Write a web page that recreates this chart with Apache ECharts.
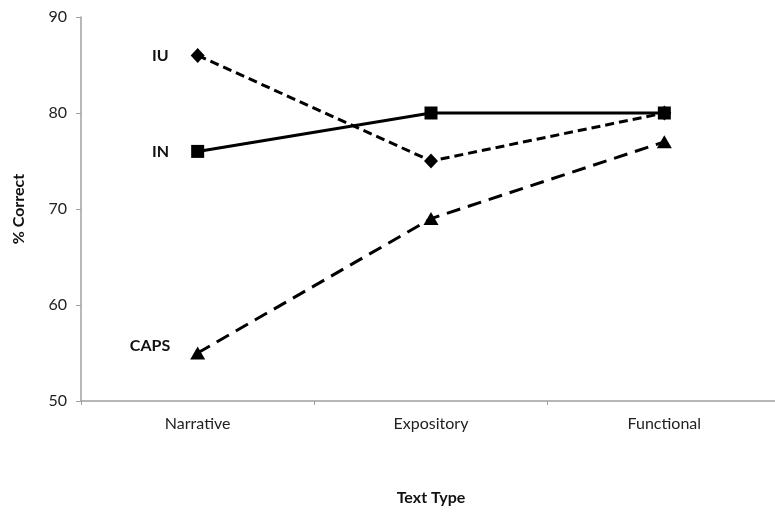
<!DOCTYPE html>
<html><head><meta charset="utf-8">
<script src="https://cdn.jsdelivr.net/npm/echarts@6/dist/echarts.min.js"></script>
<style>html,body{margin:0;padding:0;background:#fff}#c{width:775px;height:512px}</style>
</head><body><div id="c"></div>
<script>
var categories = ['Narrative', 'Expository', 'Functional'];
var inValues = [76, 80, 80];
var iuValues = [86, 75, 80];
var capsValues = [55, 69, 77];
var yTicks = [50, 60, 70, 80, 90];

var font = 'Lato, "Open Sans", sans-serif';
var chart = echarts.init(document.getElementById('c'));
function lbl(name) {
  return function (p) { return p.dataIndex === 0 ? name : ''; };
}
chart.setOption({
  animation: false,
  grid: { left: 81, top: 17, bottom: 111, right: -6, outerBoundsMode: 'none', containLabel: false },
  xAxis: {
    type: 'category', data: categories, boundaryGap: true,
    name: 'Text Type', nameLocation: 'middle', nameGap: 89,
    nameTextStyle: { fontFamily: font, fontWeight: 'bold', fontSize: 16, color: '#111' },
    axisLine: { lineStyle: { color: '#a0a0a0', width: 1.5 } },
    axisTick: { show: true, length: 4, lineStyle: { color: '#a0a0a0' } },
    axisLabel: { fontFamily: font, fontSize: 16, color: '#222', margin: 15 }
  },
  yAxis: {
    type: 'value', min: yTicks[0], max: yTicks[yTicks.length - 1], interval: 10,
    name: '% Correct', nameLocation: 'middle', nameGap: 54,
    nameTextStyle: { fontFamily: font, fontWeight: 'bold', fontSize: 16, color: '#111' },
    splitLine: { show: false },
    axisLine: { show: true, lineStyle: { color: '#a0a0a0', width: 1.5 } },
    axisTick: { show: true, length: 5, lineStyle: { color: '#a0a0a0' } },
    axisLabel: { fontFamily: font, fontSize: 16, color: '#222', margin: 14 }
  },
  series: [
    {
      name: 'IN', type: 'line', data: inValues,
      symbol: 'rect', symbolSize: 13,
      itemStyle: { color: '#000' },
      lineStyle: { color: '#000', width: 3, type: 'solid' },
      label: { show: true, position: 'left', distance: 22, formatter: lbl('IN'),
        fontFamily: font, fontWeight: 'bold', fontSize: 16, color: '#111' }
    },
    {
      name: 'IU', type: 'line', data: iuValues,
      symbol: 'diamond', symbolSize: [14, 15],
      itemStyle: { color: '#000' },
      lineStyle: { color: '#000', width: 3, type: [9, 5] },
      label: { show: true, position: 'left', distance: 22, formatter: lbl('IU'),
        fontFamily: font, fontWeight: 'bold', fontSize: 16, color: '#111' }
    },
    {
      name: 'CAPS', type: 'line', data: capsValues,
      symbol: 'triangle', symbolSize: [15, 13],
      itemStyle: { color: '#000' },
      lineStyle: { color: '#000', width: 3, type: [14, 8] },
      label: { show: true, position: 'left', distance: 20, offset: [0, -7], formatter: lbl('CAPS'),
        fontFamily: font, fontWeight: 'bold', fontSize: 16, color: '#111' }
    }
  ]
});
</script></body></html>
